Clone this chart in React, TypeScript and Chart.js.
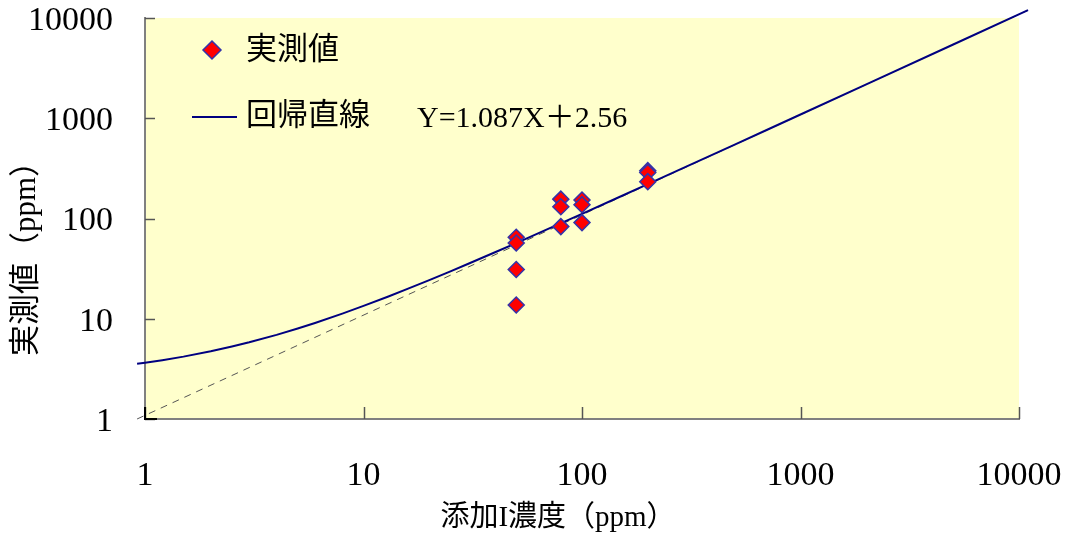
import React, { useEffect, useRef } from "react";
import { Chart, registerables } from "chart.js";

Chart.register(...registerables);

// ---- data ----
const addedConc = [50, 50, 50, 50, 80, 80, 80, 100, 100, 100, 200, 200, 200];
const measuredValues = [65, 57, 31, 13.7, 156, 131, 83, 153, 137, 91, 300, 288, 233];
const tickValues = [1, 10, 100, 1000, 10000];
const SLOPE = 1.087;
const INTERCEPT = 2.56;
const fitXs = [0.92, 1, 1.2, 1.5, 2, 2.5, 3, 4, 5, 6, 8, 10, 13, 16, 20, 25, 30, 40, 50, 70, 100, 150, 200, 300, 500, 700, 1000, 2000, 5000, 11000];
const refXs = [0.92, 11000];
const legendLabels = ["実測値", "回帰直線"];
const equationText = "Y=1.087X＋2.56";
const xTitle = "添加I濃度（ppm）";
const yTitle = "実測値（ppm）";

const FONT = "'Liberation Serif', 'Noto Sans CJK JP', serif";

export default function App() {
  const ref = useRef<HTMLCanvasElement>(null);
  useEffect(() => {
    document.body.style.margin = "0";
    const canvas = ref.current!;

    const bgPlugin = {
      id: "bg",
      beforeDraw(chart: any) {
        const { ctx, chartArea: a } = chart;
        ctx.save();
        ctx.fillStyle = "#FFFFCC";
        ctx.fillRect(a.left, a.top, a.right - a.left, a.bottom - a.top);
        ctx.restore();
      },
    };

    const decorPlugin = {
      id: "decor",
      afterDraw(chart: any) {
        const { ctx, chartArea: a, scales } = chart;
        const xs = scales.x;
        const ys = scales.y;
        ctx.save();
        // inward tick marks
        ctx.strokeStyle = "#555555";
        ctx.lineWidth = 1.5;
        tickValues.forEach((v) => {
          const py = Math.round(ys.getPixelForValue(v)) + 0.5;
          ctx.beginPath();
          ctx.moveTo(a.left, py);
          ctx.lineTo(a.left + 10, py);
          ctx.stroke();
          const px = Math.round(xs.getPixelForValue(v)) + 0.5;
          ctx.beginPath();
          ctx.moveTo(px, a.bottom);
          ctx.lineTo(px, a.bottom - 12);
          ctx.stroke();
        });
        // corner mark
        ctx.strokeStyle = "#000000";
        ctx.lineWidth = 2;
        ctx.beginPath();
        ctx.moveTo(a.left, a.bottom - 12);
        ctx.lineTo(a.left, a.bottom);
        ctx.lineTo(a.left + 12, a.bottom);
        ctx.stroke();

        // legend
        ctx.fillStyle = "#000000";
        ctx.font = `31px ${FONT}`;
        ctx.textBaseline = "middle";
        ctx.textAlign = "left";
        const dx = 212, dy = 50, r = 9;
        ctx.beginPath();
        ctx.moveTo(dx, dy - r);
        ctx.lineTo(dx + r, dy);
        ctx.lineTo(dx, dy + r);
        ctx.lineTo(dx - r, dy);
        ctx.closePath();
        ctx.fillStyle = "#FF0000";
        ctx.fill();
        ctx.strokeStyle = "#3333AA";
        ctx.lineWidth = 1.5;
        ctx.stroke();
        ctx.fillStyle = "#000000";
        ctx.fillText(legendLabels[0], 246, 51);
        ctx.strokeStyle = "#000080";
        ctx.lineWidth = 2;
        ctx.beginPath();
        ctx.moveTo(192, 117);
        ctx.lineTo(237, 117);
        ctx.stroke();
        ctx.fillText(legendLabels[1], 246, 117);
        ctx.font = `30px ${FONT}`;
        ctx.fillText(equationText, 417, 119);

        // axis titles
        ctx.font = `29px ${FONT}`;
        ctx.textAlign = "center";
        ctx.fillText(xTitle, 558, 518);
        ctx.font = `31px ${FONT}`;
        ctx.translate(27, 251);
        ctx.rotate(-Math.PI / 2);
        ctx.fillText(yTitle, 0, 0);
        ctx.restore();
      },
    };

    const setTicks = (scale: any) => {
      scale.ticks = tickValues.map((v) => ({ value: v }));
    };

    const chart = new Chart(canvas, {
      type: "scatter",
      data: {
        datasets: [
          {
            label: legendLabels[0],
            data: addedConc.map((x, i) => ({ x, y: measuredValues[i] })),
            pointStyle: "rectRot",
            pointRadius: 8,
            pointBackgroundColor: "#FF0000",
            pointBorderColor: "#3333AA",
            pointBorderWidth: 1.5,
            showLine: false,
          },
          {
            label: legendLabels[1],
            data: fitXs.map((x) => ({ x, y: SLOPE * x + INTERCEPT })),
            showLine: true,
            borderColor: "#000080",
            borderWidth: 2,
            pointRadius: 0,
            clip: false as any,
          },
          {
            label: "Y=1.087X",
            data: refXs.map((x) => ({ x, y: SLOPE * x })),
            showLine: true,
            borderColor: "#555555",
            borderWidth: 1,
            borderDash: [7, 6],
            pointRadius: 0,
            clip: false as any,
          },
        ],
      },
      options: {
        responsive: false,
        animation: false,
        devicePixelRatio: 1,
        layout: { padding: { left: 0, right: 52, top: 18, bottom: 0 } },
        plugins: {
          legend: { display: false },
          tooltip: { enabled: false },
        },
        scales: {
          x: {
            type: "logarithmic",
            min: 1,
            max: 10000,
            afterBuildTicks: setTicks,
            afterFit: (s: any) => {
              s.height = 126;
              s.paddingLeft = 0;
              s.paddingRight = 0;
              s.paddingTop = 0;
              s.paddingBottom = 0;
            },
            grid: { display: false, drawTicks: false },
            border: { display: true, color: "#808080", width: 2 },
            ticks: {
              color: "#000000",
              font: { family: FONT, size: 34 },
              padding: 37,
              maxRotation: 0,
              autoSkip: false,
              callback: (v: any) => String(v),
            },
          },
          y: {
            type: "logarithmic",
            min: 1,
            max: 10000,
            afterBuildTicks: setTicks,
            afterFit: (s: any) => {
              s.width = 145;
              s.paddingLeft = 0;
              s.paddingRight = 0;
              s.paddingTop = 0;
              s.paddingBottom = 0;
            },
            grid: { display: false, drawTicks: false },
            border: { display: true, color: "#808080", width: 2 },
            ticks: {
              color: "#000000",
              font: { family: FONT, size: 34 },
              padding: 32,
              labelOffset: 3,
              autoSkip: false,
              callback: (v: any) => String(v),
            },
          },
        },
      },
      plugins: [bgPlugin, decorPlugin],
    });
    return () => chart.destroy();
  }, []);
  return <canvas ref={ref} width={1071} height={545} style={{ display: "block" }} />;
}
